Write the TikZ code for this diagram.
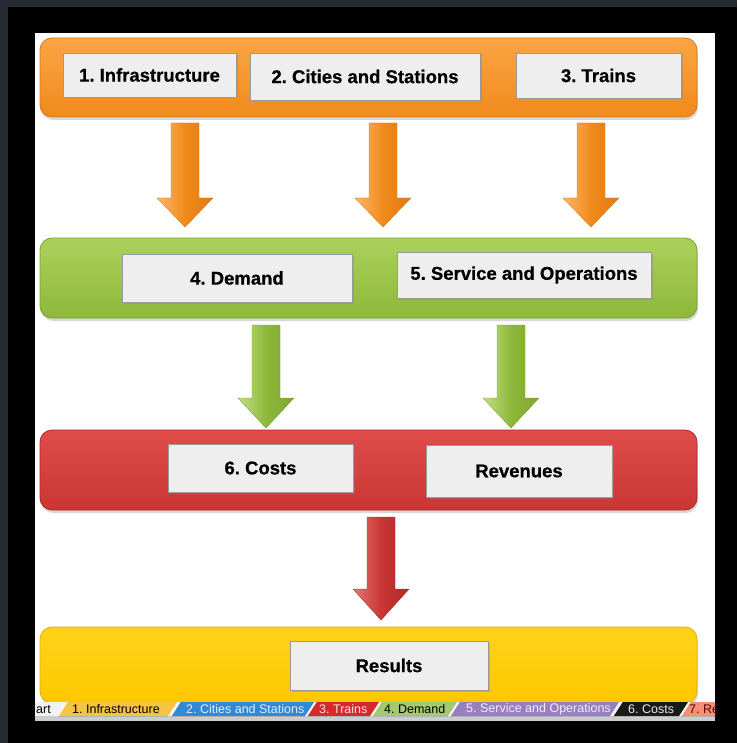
\documentclass[tikz,border=0pt]{standalone}
\usepackage{fontspec}
\setmainfont{Liberation Sans}
\newfontfamily\heavyfont[FakeBold=0.6]{Liberation Sans Bold}
\usetikzlibrary{calc,shadows}
\definecolor{bgslate}{HTML}{262B33}
\definecolor{boxfill}{HTML}{EEEEEE}
\definecolor{boxline}{HTML}{9A9A9A}
\definecolor{orTop}{HTML}{FAA545}
\definecolor{orBot}{HTML}{F08A1A}
\definecolor{orEdge}{HTML}{D6771A}
\definecolor{orLight}{HTML}{FBB868}
\definecolor{orDark}{HTML}{E07A14}
\definecolor{grTop}{HTML}{ABD15A}
\definecolor{grBot}{HTML}{8DB83A}
\definecolor{grEdge}{HTML}{7BA12F}
\definecolor{grLight}{HTML}{C2DF85}
\definecolor{grDark}{HTML}{7FA731}
\definecolor{rdTop}{HTML}{E14C4A}
\definecolor{rdBot}{HTML}{C93634}
\definecolor{rdEdge}{HTML}{A92A28}
\definecolor{rdLight}{HTML}{E67573}
\definecolor{rdDark}{HTML}{AE2A29}
\definecolor{yeTop}{HTML}{FFD21A}
\definecolor{yeBot}{HTML}{FFC800}
\definecolor{yeEdge}{HTML}{E3B000}
\definecolor{tabbg}{HTML}{F2F2F2}
\definecolor{tabYe}{HTML}{F6C443}
\definecolor{tabBl}{HTML}{3189D6}
\definecolor{tabRd}{HTML}{D42A2C}
\definecolor{tabGr}{HTML}{A5C96E}
\definecolor{tabPu}{HTML}{977FC0}
\definecolor{tabBk}{HTML}{1A1A1A}
\definecolor{tabSa}{HTML}{F48E77}
\newcommand\blkarrow[5]{%
  \path[#5] (#1-14,#2) -- (#1+14,#2) -- (#1+14,#3) -- (#1+28,#3) -- (#1,#4)
    -- (#1-28,#3) -- (#1-14,#3) -- cycle;}
\newcommand\sheettab[3]{%
  \fill[#3] (#1,716) -- (#1+9,702) -- (#2+9,702) -- (#2,716) -- cycle;
  \draw[white,line width=1pt] (#1,716) -- (#1+9,702);
  \draw[gray!60,line width=0.4pt] (#1,716) -- (#2,716);}
\tikzset{
  band/.style={rounded corners=12pt, minimum width=657, line width=0.8pt,
    drop shadow={opacity=0.30, shadow xshift=1pt, shadow yshift=-3pt}},
  orangeband/.style={band, draw=orEdge, top color=orTop, bottom color=orBot},
  greenband/.style={band, draw=grEdge, top color=grTop, bottom color=grBot},
  redband/.style={band, draw=rdEdge, top color=rdTop, bottom color=rdBot},
  yellowband/.style={band, draw=yeEdge, top color=yeTop, bottom color=yeBot},
  labelbox/.style={fill=boxfill, draw=boxline, line width=0.6pt,
    drop shadow={opacity=0.35, shadow xshift=1.5pt, shadow yshift=-1.5pt},
    font=\heavyfont\fontsize{18.5}{21}\selectfont\frenchspacing, inner sep=0pt},
  orangearrow/.style={left color=orLight, right color=orDark, middle color=orBot, draw=orEdge, line width=0.4pt},
  greenarrow/.style={left color=grLight, right color=grDark, middle color=grBot, draw=grEdge, line width=0.4pt},
  redarrow/.style={left color=rdLight, right color=rdDark, middle color=rdBot, draw=rdEdge, line width=0.4pt},
  tabtext/.style={font=\fontsize{12.5}{13}\selectfont\frenchspacing, anchor=west, inner sep=0pt}
}
\begin{document}
\frenchspacing
\begin{tikzpicture}[x=1pt,y=-1pt]
\useasboundingbox (0,0) rectangle (737,743);
\fill[bgslate] (0,0) rectangle (737,743);
\fill[black] (8,7) rectangle (737,743);
\fill[white] (35,33) rectangle (715,702);

% bands
\node[orangeband, minimum height=79] (bandA) at (368.5,77.5) {};
\node[greenband, minimum height=80] (bandB) at (368.5,278) {};
\node[redband, minimum height=80] (bandC) at (368.5,470) {};
\node[yellowband, minimum height=76] (bandD) at (368.5,665) {};

% label boxes
\node[labelbox, minimum width=173, minimum height=44] (infra) at (149.5,75) {1. Infrastructure};
\node[labelbox, minimum width=230, minimum height=47] (cities) at (365,76.5) {2. Cities and Stations};
\node[labelbox, minimum width=165, minimum height=45] (trains) at (598.5,75.5) {3. Trains};
\node[labelbox, minimum width=230, minimum height=48] (demand) at (237,278) {4. Demand};
\node[labelbox, minimum width=254, minimum height=46] (service) at (524,275) {5. Service and Operations};
\node[labelbox, minimum width=185, minimum height=48] (costs) at (260.5,468) {6. Costs};
\node[labelbox, minimum width=186, minimum height=52] (revenues) at (519,471) {Revenues};
\node[labelbox, minimum width=198, minimum height=49] (results) at (389,665.5) {Results};

% block arrows
\blkarrow{185}{123}{198}{227}{orangearrow}
\blkarrow{383}{123}{198}{227}{orangearrow}
\blkarrow{591}{123}{198}{227}{orangearrow}
\blkarrow{266}{325}{398}{428}{greenarrow}
\blkarrow{511}{325}{398}{428}{greenarrow}
\blkarrow{381}{517}{589}{620}{redarrow}

% sheet tab bar
\begin{scope}
\clip (35,702) rectangle (715,721);
\fill[tabbg] (35,702) rectangle (715,716);
\fill[gray!40] (35,716) rectangle (715,721);
\node[tabtext] (tStart) at (36,709.5) {art};
\sheettab{58}{168}{tabYe}
\sheettab{171}{305}{tabBl}
\sheettab{307}{370}{tabRd}
\sheettab{372}{448}{tabGr}
\sheettab{450}{610}{tabPu}
\sheettab{613}{679}{tabBk}
\sheettab{681}{760}{tabSa}
\node[tabtext, text=black] (tInfra) at (72,709.5) {1. Infrastructure};
\node[tabtext, text=white!85!tabBl] (tCities) at (186,709.5) {2. Cities and Stations};
\node[tabtext, text=white!85!tabRd] (tTrains) at (319,709.5) {3. Trains};
\node[tabtext, text=black] (tDemand) at (384,709.5) {4. Demand};
\node[tabtext, text=white!85!tabPu] (tService) at (466,709.5) {5. Service and Operations};
\node[tabtext, text=white!90!tabBk] (tCosts) at (628,709.5) {6. Costs};
\node[tabtext, text=black!60!red] (tRes) at (689,709.5) {7. Re};
\end{scope}
\end{tikzpicture}
\end{document}
